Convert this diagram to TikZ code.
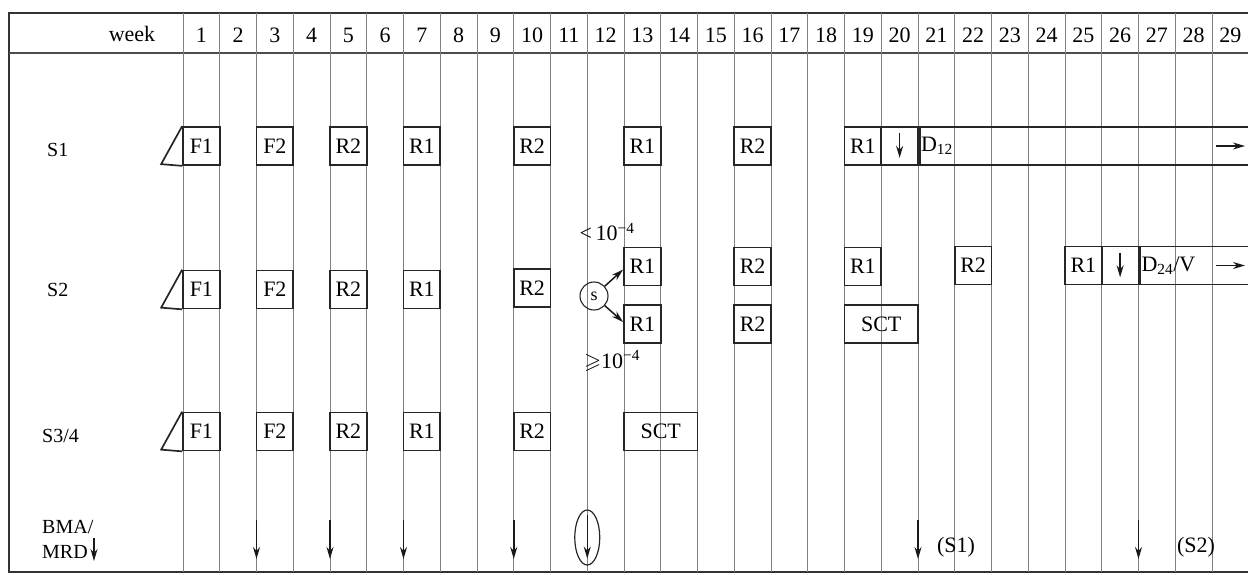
\documentclass[tikz,border=0pt]{standalone}
\usepackage{fontspec}
\setmainfont{Liberation Serif}
\usepackage{amssymb}
\usetikzlibrary{arrows.meta,shapes.geometric}
\begin{document}
\begin{tikzpicture}[x=1pt,y=-1pt,
  txt/.style={font=\fontsize{22}{24}\selectfont, inner sep=0pt},
  lbl/.style={font=\fontsize{20}{22}\selectfont, inner sep=0pt},
  cellbox/.style={draw=black!85, line width=1.7pt, minimum width=36.75pt, minimum height=38pt, inner sep=0pt, font=\fontsize{22}{24}\selectfont},
  gridline/.style={draw=black!50, line width=0.7pt},
  framel/.style={draw=black!80, line width=1.8pt},
  arr/.style={-{Stealth[length=12pt,width=7pt]}, line width=1.5pt, draw=black!90},
]
\useasboundingbox (0,0) rectangle (1248,575);
% frame
\draw[framel] (1250,13) -- (9,13) -- (9,572) -- (1250,572);
\draw[draw=black!70, line width=1.2pt] (9,53) -- (1250,53);
% grid lines and week numbers
\foreach \k in {1,...,29}{
  \draw[gridline] ({183+(\k-1)*36.75},13) -- ({183+(\k-1)*36.75},572);
  \node[txt] (w\k) at ({183+(\k-0.5)*36.75},35) {\k};
}
\node[txt] (week) at (132,34) {week};
% row labels
\node[lbl, anchor=west] (lS1) at (47,150) {S1};
\node[lbl, anchor=west] (lS2) at (47,290) {S2};
\node[lbl, anchor=west] (lS3) at (42,436) {S3/4};
\node[lbl, anchor=west] (lB1) at (42,527) {BMA/};
\node[lbl, anchor=west] (lB2) at (42,552) {MRD};
\coordinate (mrdA) at (94,538);
\coordinate (mrdB) at (94,561);
\draw[arr] (mrdA) -- (mrdB);

% ---------- S1 ----------
\node[cellbox] (s1f1) at ({183+0.5*36.75},146) {F1};
\draw[draw=black!85, line width=1.7pt] (s1f1.north west) -- ++(-21,38) -- (s1f1.south west);
\node[cellbox] (s1f2) at ({183+2.5*36.75},146) {F2};
\node[cellbox] (s1r2a) at ({183+4.5*36.75},146) {R2};
\node[cellbox] (s1r1a) at ({183+6.5*36.75},146) {R1};
\node[cellbox] (s1r2b) at ({183+9.5*36.75},146) {R2};
\node[cellbox] (s1r1b) at ({183+12.5*36.75},146) {R1};
\node[cellbox] (s1r2c) at ({183+15.5*36.75},146) {R2};
\node[cellbox] (s1r1c) at ({183+18.5*36.75},146) {R1};
\node[cellbox] (s1dn) at ({183+19.5*36.75},146) {};
\node[cellbox, minimum width=340pt, anchor=west] (s1long) at (s1dn.east) {};
\node[txt, anchor=west] (s1d) at ([xshift=2pt]s1dn.east) {D\textsubscript{12}};
\coordinate (s1dnA) at ([yshift=-7pt]s1dn.north);
\coordinate (s1dnB) at ([yshift=8pt]s1dn.south);
\draw[arr] (s1dnA) -- (s1dnB);
\coordinate (s1rA) at (1216,146);
\coordinate (s1rB) at (1245,146);
\draw[arr] (s1rA) -- (s1rB);

% ---------- S2 ----------
\node[cellbox] (s2f1) at ({183+0.5*36.75},289.5) {F1};
\draw[draw=black!85, line width=1.7pt] (s2f1.north west) -- ++(-21,38) -- (s2f1.south west);
\node[cellbox] (s2f2) at ({183+2.5*36.75},289.5) {F2};
\node[cellbox] (s2r2a) at ({183+4.5*36.75},289.5) {R2};
\node[cellbox] (s2r1a) at ({183+6.5*36.75},289.5) {R1};
\node[cellbox] (s2r2b) at ({183+9.5*36.75},288) {R2};
\node[circle, draw=black!85, line width=1.1pt, minimum size=28pt, inner sep=0pt, font=\fontsize{18}{20}\selectfont] (s) at (594,296) {s};
\node[cellbox] (s2r1u) at ({183+12.5*36.75},266.5) {R1};
\node[cellbox] (s2r1l) at ({183+12.5*36.75},324) {R1};
\draw[arr] (s) -- ([yshift=-3pt]s2r1u.west);
\draw[arr] (s) -- ([yshift=2pt]s2r1l.west);
\node[txt] (lt) at (607,232) {<\,10\textsuperscript{−4}};
\node[txt] (ge) at (612,361) {$\geqslant$10\textsuperscript{−4}};
\node[cellbox] (s2r2u) at ({183+15.5*36.75},266.5) {R2};
\node[cellbox] (s2r2l) at ({183+15.5*36.75},324) {R2};
\node[cellbox] (s2r1c) at ({183+18.5*36.75},266.5) {R1};
\node[cellbox, minimum width=73.5pt] (s2sct) at ({183+19*36.75},324) {SCT};
\node[cellbox] (s2r2c) at ({183+21.5*36.75},265.5) {R2};
\node[cellbox] (s2r1d) at ({183+24.5*36.75},265.5) {R1};
\node[cellbox] (s2dn) at ({183+25.5*36.75},265.5) {};
\node[cellbox, minimum width=120pt, anchor=west] (s2long) at (s2dn.east) {};
\node[txt, anchor=west] (s2d) at ([xshift=2pt]s2dn.east) {D\textsubscript{24}/V};
\coordinate (s2dnA) at ([yshift=-7pt]s2dn.north);
\coordinate (s2dnB) at ([yshift=8pt]s2dn.south);
\draw[arr] (s2dnA) -- (s2dnB);
\coordinate (s2rA) at (1216,265.5);
\coordinate (s2rB) at (1245,265.5);
\draw[arr] (s2rA) -- (s2rB);

% ---------- S3/4 ----------
\node[cellbox] (s3f1) at ({183+0.5*36.75},431.5) {F1};
\draw[draw=black!85, line width=1.7pt] (s3f1.north west) -- ++(-21,38) -- (s3f1.south west);
\node[cellbox] (s3f2) at ({183+2.5*36.75},431.5) {F2};
\node[cellbox] (s3r2a) at ({183+4.5*36.75},431.5) {R2};
\node[cellbox] (s3r1a) at ({183+6.5*36.75},431.5) {R1};
\node[cellbox] (s3r2b) at ({183+9.5*36.75},431.5) {R2};
\node[cellbox, minimum width=73.5pt] (s3sct) at ({183+13*36.75},431.5) {SCT};

% ---------- BMA/MRD ----------
\foreach \k/\nm in {3/b3,5/b5,7/b7,10/b10,21/b21,27/b27}{
  \coordinate (\nm A) at ({183+(\k-1)*36.75},520);
  \coordinate (\nm B) at ({183+(\k-1)*36.75},559);
  \draw[arr] (\nm A) -- (\nm B);
}
\node[ellipse, draw=black!85, line width=1.2pt, minimum width=25pt, minimum height=55pt, inner sep=0pt] (circ) at ({183+11*36.75},537.5) {};
\coordinate (b12A) at ([yshift=-6pt]circ.north);
\coordinate (b12B) at ([yshift=7pt]circ.south);
\draw[arr] (b12A) -- (b12B);
\node[txt] (S1note) at (956,547) {(S1)};
\node[txt] (S2note) at (1196,547) {(S2)};
\end{tikzpicture}
\end{document}
